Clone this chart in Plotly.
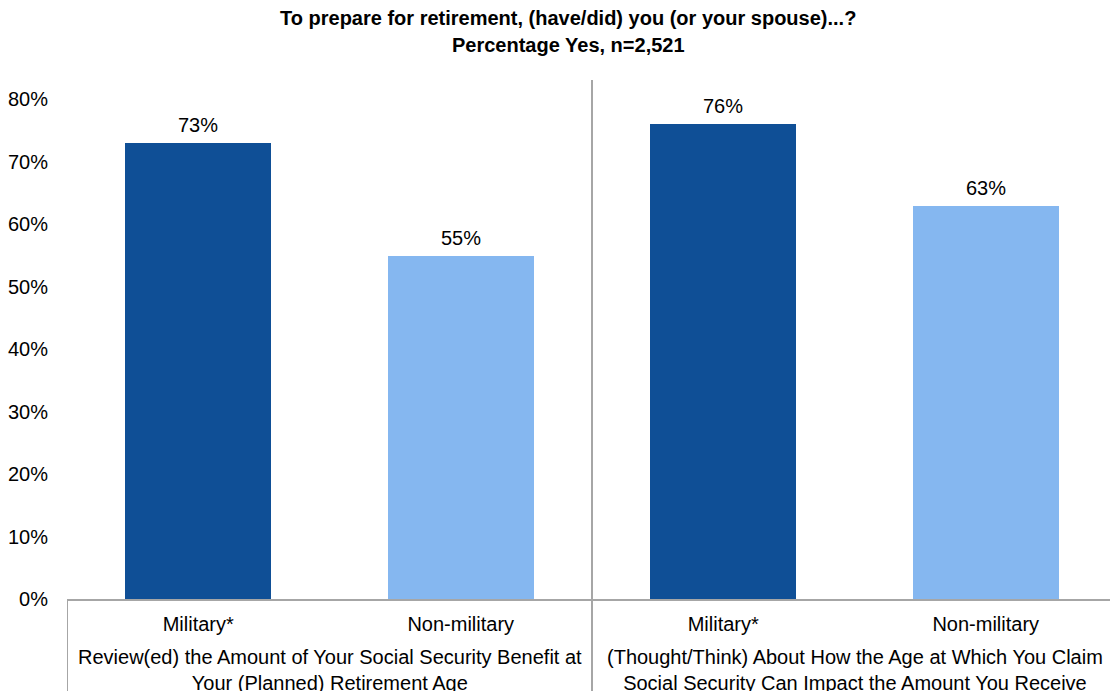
import plotly.graph_objects as go

# ---- data ----
bar_labels = ["Military*", "Non-military", "Military*", "Non-military"]
values = [73, 55, 76, 63]
bar_colors = ["#0F4F96", "#85B7F0", "#0F4F96", "#85B7F0"]
group_labels = [
    "Review(ed) the Amount of Your Social Security Benefit at<br>Your (Planned) Retirement Age",
    "(Thought/Think) About How the Age at Which You Claim<br>Social Security Can Impact the Amount You Receive",
]
y_ticks = [0, 10, 20, 30, 40, 50, 60, 70, 80]
y_tick_text = ["0%", "10%", "20%", "30%", "40%", "50%", "60%", "70%", "80%"]
title_lines = ["To prepare for retirement, (have/did) you (or your spouse)...?",
               "Percentage Yes, n=2,521"]

FONT = "Liberation Sans, Arial, sans-serif"
FS = 20
x_pos = list(range(len(values)))

fig = go.Figure()
fig.add_trace(go.Bar(
    x=x_pos, y=values, marker=dict(color=bar_colors, line=dict(width=0)),
    width=0.556, hoverinfo="skip", showlegend=False,
))

# data labels
for xi, v in zip(x_pos, values):
    fig.add_annotation(x=xi, y=v, xref="x", yref="y", text=f"{v}%", showarrow=False,
                       yanchor="bottom", yshift=5, font=dict(family=FONT, size=FS, color="#000"))

# group labels
for gi, gl in enumerate(group_labels):
    fig.add_annotation(x=gi * 2 + 0.5, y=0, xref="x", yref="paper", text=gl, showarrow=False,
                       yanchor="top", yshift=-45, font=dict(family=FONT, size=FS, color="#000"))

# title lines
for li, tl in enumerate(title_lines):
    fig.add_annotation(x=(568 - 67) / 1043, y=1, xref="paper", yref="paper", text=f"<b>{tl}</b>",
                       showarrow=False, yanchor="bottom", xanchor="center",
                       yshift=49 - li * 27, font=dict(family=FONT, size=FS, color="#000"))

plot_h = 691 - 92 - 79.5
# separators
fig.add_shape(type="line", xref="x", yref="paper", x0=-0.5, x1=-0.5, y0=0, y1=-92 / plot_h,
              line=dict(color="#A6A6A6", width=2))
fig.add_shape(type="line", xref="x", yref="paper", x0=1.5, x1=1.5, y0=1, y1=-92 / plot_h,
              line=dict(color="#A6A6A6", width=2))

fig.update_layout(
    width=1110, height=691,
    margin=dict(l=67, r=0, t=79.5, b=92, pad=0),
    plot_bgcolor="white", paper_bgcolor="white",
    font=dict(family=FONT, size=FS, color="#000"),
    bargap=0,
    xaxis=dict(range=[-0.5, 3.5 - 7 / 262.5], tickvals=x_pos, ticktext=bar_labels,
               showline=True, linecolor="#A6A6A6", linewidth=2, showgrid=False, zeroline=False,
               ticks="", ticklabelstandoff=6, tickfont=dict(family=FONT, size=FS, color="#000")),
    yaxis=dict(range=[0, 80 * plot_h / 500], tickvals=y_ticks, ticktext=y_tick_text,
               showline=False, showgrid=False, zeroline=False, ticks="",
               ticklabelstandoff=18, tickfont=dict(family=FONT, size=FS, color="#000")),
)

fig.write_html("out.html", config={"displayModeBar": False},
               post_script="document.body.style.margin='0';document.body.style.overflow='hidden';")
